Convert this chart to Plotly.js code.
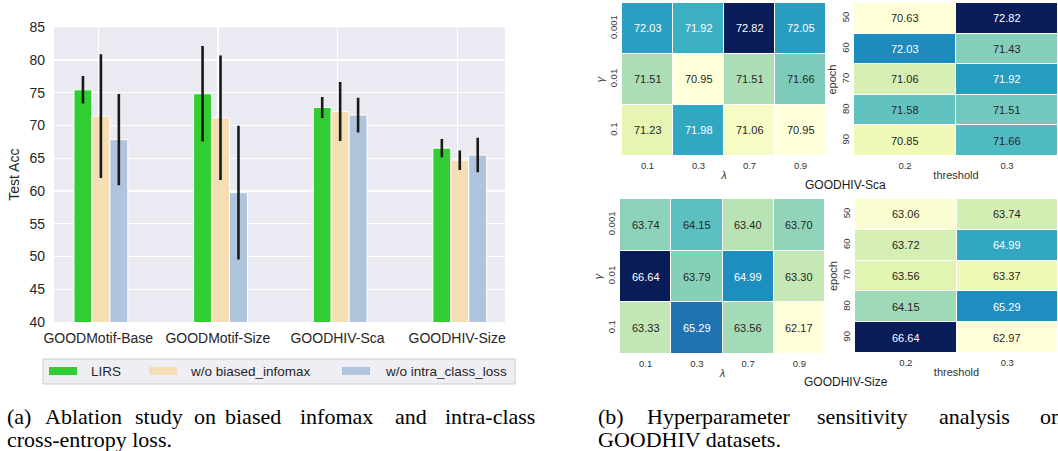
<!DOCTYPE html>
<html><head><meta charset="utf-8">
<script src="https://cdn.plot.ly/plotly-3.0.1.min.js"></script>
<style>html,body{margin:0;padding:0;background:#fff;} #chart{width:1058px;height:451px;}</style>
</head><body><div id="chart"></div>
<script>
// ---------- Data: ablation bar chart ----------
const datasets = ['GOODMotif-Base', 'GOODMotif-Size', 'GOODHIV-Sca', 'GOODHIV-Size'];
const seriesNames = ['LIRS', 'w/o biased_infomax', 'w/o intra_class_loss'];
const lirsAcc = [75.45, 74.85, 72.75, 66.55];
const lirsErr = [2.1, 7.3, 1.6, 1.4];
const noInfomaxAcc = [71.45, 71.2, 72.15, 64.7];
const noInfomaxErr = [9.45, 9.5, 4.5, 1.5];
const noIntraAcc = [67.85, 59.75, 71.6, 65.5];
const noIntraErr = [6.95, 10.2, 2.65, 2.65];

// ---------- Data: hyperparameter heatmaps ----------
const lambdaVals = ['0.1', '0.3', '0.7', '0.9'];
const gammaVals = ['0.001', '0.01', '0.1'];
const thresholdVals = ['0.2', '0.3'];
const epochVals = ['50', '60', '70', '80', '90'];
const scaLambdaGamma = [
  [72.03, 71.92, 72.82, 72.05],
  [71.51, 70.95, 71.51, 71.66],
  [71.23, 71.98, 71.06, 70.95]
];
const scaEpochThreshold = [
  [70.63, 72.82],
  [72.03, 71.43],
  [71.06, 71.92],
  [71.58, 71.51],
  [70.85, 71.66]
];
const sizeLambdaGamma = [
  [63.74, 64.15, 63.40, 63.70],
  [66.64, 63.79, 64.99, 63.30],
  [63.33, 65.29, 63.56, 62.17]
];
const sizeEpochThreshold = [
  [63.06, 63.74],
  [63.72, 64.99],
  [63.56, 63.37],
  [64.15, 65.29],
  [66.64, 62.97]
];

// ---------- Styling ----------
const W = 1058, H = 451;
const px = v => v / W;
const py = v => 1 - v / H;
const barColors = ['#32CD32', '#F5DEB3', '#B0C4DE'];
const ylgnbu = [
  [0.0, '#ffffd9'], [0.125, '#edf8b1'], [0.25, '#c7e9b4'], [0.375, '#7fcdbb'],
  [0.5, '#41b6c4'], [0.625, '#1d91c0'], [0.75, '#225ea8'], [0.875, '#253494'], [1.0, '#081d58']
];
const sans = '"Liberation Sans", Arial, sans-serif';
const serif = '"Liberation Serif", "Times New Roman", serif';
const txt = '#262626';

const barW = 0.15;
const barOffsets = [-0.203, -0.053, 0.097];
const accs = [lirsAcc, noInfomaxAcc, noIntraAcc];
const errs = [lirsErr, noInfomaxErr, noIntraErr];

const traces = [];
for (let s = 0; s < 3; s++) {
  traces.push({
    type: 'bar', x: datasets, y: accs[s], name: seriesNames[s],
    xaxis: 'x', yaxis: 'y', width: barW, offset: barOffsets[s],
    marker: {color: barColors[s], line: {color: '#ffffff', width: 1}},
    error_y: {type: 'data', array: errs[s], visible: true, color: '#1a1a1a', thickness: 2.6, width: 0},
    showlegend: false, hoverinfo: 'skip'
  });
}

const heatmaps = [
  {z: scaLambdaGamma, x: lambdaVals, y: gammaVals, xa: 'x2', ya: 'y2'},
  {z: scaEpochThreshold, x: thresholdVals, y: epochVals, xa: 'x3', ya: 'y3'},
  {z: sizeLambdaGamma, x: lambdaVals, y: gammaVals, xa: 'x4', ya: 'y4'},
  {z: sizeEpochThreshold, x: thresholdVals, y: epochVals, xa: 'x5', ya: 'y5'}
];

const annotations = [];
heatmaps.forEach(h => {
  const flat = h.z.flat();
  const zmin = Math.min(...flat), zmax = Math.max(...flat);
  traces.push({
    type: 'heatmap', z: h.z, x: h.x, y: h.y, xaxis: h.xa, yaxis: h.ya,
    colorscale: ylgnbu, zmin: zmin, zmax: zmax, showscale: false,
    xgap: 1, ygap: 1, hoverinfo: 'skip'
  });
  // cell labels placed at the category index positions of the axes
  h.z.forEach((row, i) => row.forEach((v, j) => {
    const norm = (v - zmin) / (zmax - zmin);
    annotations.push({
      xref: h.xa, yref: h.ya, x: j, y: i, text: v.toFixed(2), showarrow: false,
      font: {family: sans, size: 11, color: norm > 0.5 ? '#ffffff' : txt}
    });
  }));
});

// Legend (manual, matching seaborn layout)
const shapes = [
  {type: 'rect', xref: 'x domain', yref: 'y domain', x0: 0, x1: 1, y0: 0, y1: 1,
   fillcolor: '#EAEAF2', line: {width: 0}, layer: 'below'},
  {type: 'rect', xref: 'paper', yref: 'paper', x0: px(43), x1: px(515), y0: py(384), y1: py(359),
   fillcolor: '#EEEEF4', line: {color: '#cccccc', width: 1}}
];
const legendPatchX = [49, 149, 342];
const legendTextX = [89, 188, 383];
seriesNames.forEach((n, i) => {
  shapes.push({type: 'rect', xref: 'paper', yref: 'paper', x0: px(legendPatchX[i]), x1: px(legendPatchX[i] + 28),
    y0: py(375), y1: py(367), fillcolor: barColors[i], line: {width: 0}});
  annotations.push({xref: 'paper', yref: 'paper', x: px(legendTextX[i]), y: py(371.5), xanchor: 'left', yanchor: 'middle',
    text: n, showarrow: false, font: {family: sans, size: 13.5, color: txt}});
});

// Subplot captions
annotations.push({xref: 'paper', yref: 'paper', x: px(845), y: py(185), text: 'GOODHIV-Sca', showarrow: false,
  xanchor: 'center', yanchor: 'middle', font: {family: sans, size: 12, color: '#1a1a1a'}});
annotations.push({xref: 'paper', yref: 'paper', x: px(846), y: py(382), text: 'GOODHIV-Size', showarrow: false,
  xanchor: 'center', yanchor: 'middle', font: {family: sans, size: 12, color: '#1a1a1a'}});

// Figure captions (justified first lines)
const capSize = 22;
const capA1 = [['(a)', 5], ['Ablation', 43], ['study', 133], ['on', 192], ['biased', 223], ['infomax', 298], ['and', 393], ['intra-class', 443]];
const capB1 = [['(b)', 596], ['Hyperparameter', 645], ['sensitivity', 815], ['analysis', 937], ['on', 1038]];
capA1.concat(capB1).forEach(([w, x]) => annotations.push({xref: 'paper', yref: 'paper', x: px(x), y: py(416), xanchor: 'left', yanchor: 'middle',
  text: w, showarrow: false, font: {family: serif, size: capSize, color: '#000'}}));
annotations.push({xref: 'paper', yref: 'paper', x: px(5), y: py(439), xanchor: 'left', yanchor: 'middle',
  text: 'cross-entropy loss.', showarrow: false, font: {family: serif, size: capSize, color: '#000'}});
annotations.push({xref: 'paper', yref: 'paper', x: px(596), y: py(439), xanchor: 'left', yanchor: 'middle',
  text: 'GOODHIV datasets.', showarrow: false, font: {family: serif, size: capSize, color: '#000'}});

function hmX(domain, anchor, title) {
  return {domain: domain, anchor: anchor, type: 'category', showgrid: false, zeroline: false, showline: false,
    ticks: '', tickfont: {family: sans, size: 9.5, color: '#333'}, ticklabelstandoff: 2,
    title: {text: title, font: {family: sans, size: 11, color: '#333'}, standoff: 1}, fixedrange: true};
}
function hmY(domain, anchor, title) {
  return {domain: domain, anchor: anchor, type: 'category', autorange: 'reversed', showgrid: false, zeroline: false,
    showline: false, ticks: '', tickangle: -90, tickfont: {family: sans, size: 9.5, color: '#333'}, ticklabelstandoff: 2,
    title: {text: title, font: {family: sans, size: 11, color: '#333'}, standoff: 1}, fixedrange: true};
}

const layout = {
  width: W, height: H, margin: {l: 0, r: 0, t: 0, b: 0, pad: 0},
  paper_bgcolor: '#ffffff', plot_bgcolor: '#ffffff', showlegend: false, barmode: 'overlay',
  font: {family: sans, color: txt},
  xaxis: {domain: [px(54), px(505)], anchor: 'y', type: 'category', range: [-0.37, 3.40],
    showgrid: true, gridcolor: '#ffffff', gridwidth: 1.3, zeroline: false, showline: false, ticks: '',
    tickfont: {family: sans, size: 14, color: txt}, ticklabelstandoff: 6, fixedrange: true},
  yaxis: {domain: [py(322), py(27.3)], anchor: 'x', range: [40, 85], dtick: 5, tick0: 40,
    showgrid: true, gridcolor: '#ffffff', gridwidth: 1.3, zeroline: false, showline: false, ticks: '',
    tickfont: {family: sans, size: 14, color: txt}, ticklabelstandoff: 8,
    title: {text: 'Test Acc', font: {family: sans, size: 14, color: txt}, standoff: 6}, fixedrange: true},
  xaxis2: hmX([px(622), px(826)], 'y2', '<i>λ</i>'),
  yaxis2: hmY([py(156), py(3)], 'x2', '<i>γ</i>'),
  xaxis3: hmX([px(854), px(1058)], 'y3', 'threshold'),
  yaxis3: hmY([py(156), py(3)], 'x3', 'epoch'),
  xaxis4: hmX([px(620), px(825)], 'y4', '<i>λ</i>'),
  yaxis4: hmY([py(354), py(199)], 'x4', '<i>γ</i>'),
  xaxis5: hmX([px(855), px(1058)], 'y5', 'threshold'),
  yaxis5: hmY([py(353), py(199)], 'x5', 'epoch'),
  shapes: shapes, annotations: annotations
};

Plotly.newPlot('chart', traces, layout, {staticPlot: true, displayModeBar: false});
</script>
</body></html>
